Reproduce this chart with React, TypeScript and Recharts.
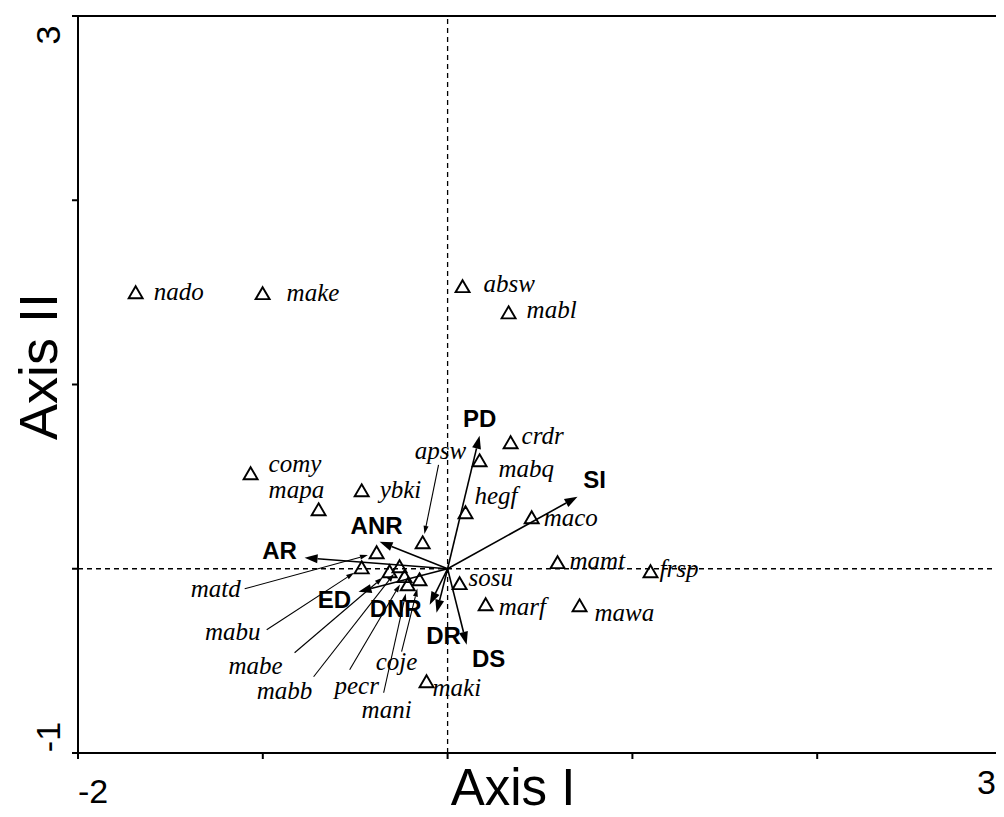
import { ScatterChart, Scatter, XAxis, YAxis, ReferenceLine, ReferenceArea, Label } from "recharts";

// species scores (axis I, axis II)
const speciesPoints = [
  { name: "nado", x: -1.688, y: 1.498 },
  { name: "make", x: -1.001, y: 1.493 },
  { name: "absw", x: 0.081, y: 1.531 },
  { name: "mabl", x: 0.33, y: 1.389 },
  { name: "crdr", x: 0.341, y: 0.684 },
  { name: "mabq", x: 0.173, y: 0.586 },
  { name: "hegf", x: 0.097, y: 0.304 },
  { name: "maco", x: 0.455, y: 0.277 },
  { name: "comy", x: -1.066, y: 0.516 },
  { name: "mapa", x: -0.698, y: 0.32 },
  { name: "ybki", x: -0.465, y: 0.423 },
  { name: "apsw", x: -0.135, y: 0.141 },
  { name: "mamt", x: 0.595, y: 0.033 },
  { name: "frsp", x: 1.098, y: -0.016 },
  { name: "sosu", x: 0.065, y: -0.081 },
  { name: "marf", x: 0.206, y: -0.195 },
  { name: "mawa", x: 0.714, y: -0.201 },
  { name: "maki", x: -0.114, y: -0.613 },
  { name: "matd", x: -0.384, y: 0.087 },
  { name: "mabu", x: -0.465, y: 0.005 },
  { name: "mabe", x: -0.314, y: -0.016 },
  { name: "mabb", x: -0.26, y: 0.011 },
  { name: "pecr", x: -0.233, y: -0.043 },
  { name: "mani", x: -0.216, y: -0.087 },
  { name: "coje", x: -0.152, y: -0.06 },
];

// environmental vectors
const envVars = ["PD", "SI", "ANR", "AR", "ED", "DNR", "DR", "DS"];
const envX = [0.173, 0.703, -0.368, -0.774, -0.482, -0.097, -0.06, 0.103];
const envY = [0.722, 0.391, 0.147, 0.06, -0.125, -0.195, -0.239, -0.412];

// crowded species get their name further away with a pointer line
const leaderNames = ["apsw", "matd", "mabu", "mabe", "mabb", "pecr", "mani", "coje"];
const leaderLabelX = [-0.038, -1.255, -1.163, -1.039, -0.882, -0.492, -0.33, -0.276];
const leaderLabelY = [0.635, -0.114, -0.347, -0.532, -0.668, -0.64, -0.771, -0.51];
const leaderFromX = [-0.049, -1.098, -0.979, -0.828, -0.725, -0.53, -0.346, -0.249];
const leaderFromY = [0.564, -0.109, -0.331, -0.456, -0.586, -0.548, -0.673, -0.45];

const xTicks = [-2, -1, 0, 1, 2, 3];
const yTicks = [-1, 0, 1, 2, 3];

// text offsets (px) for species named next to their triangle
const speciesLabelOffset: Record<string, [number, number]> = {
  nado: [18, 7], make: [24, 7], absw: [21, 5], mabl: [18, 5], crdr: [11, 1],
  mabq: [19, 16], hegf: [9, -9], maco: [12, 8], comy: [18, -2], mapa: [-50, -12],
  ybki: [18, 7], mamt: [12, 6], frsp: [9, 5], sosu: [9, 2], marf: [13, 10],
  mawa: [15, 15], maki: [6, 14],
};

// centre of each vector label relative to the arrow tip (px)
const envLabelOffset: Record<string, [number, number]> = {
  PD: [0, -18], SI: [17, -18], ANR: [-3, -17], AR: [-25, -8],
  ED: [-24, 7], DNR: [-34, 3], DR: [7, 22], DS: [22, 13],
};

const envData = envVars.map((name, i) => ({ name, x: envX[i], y: envY[i] }));
const speciesByName = Object.fromEntries(speciesPoints.map((s) => [s.name, s]));
const leaderData = leaderNames.map((name, i) => ({ name, x: leaderLabelX[i], y: leaderLabelY[i] }));

const SERIF = "'Liberation Serif', 'Times New Roman', serif";
const SANS = "'Liberation Sans', Arial, sans-serif";

const arrowShape = (head: number, width: number, gap: number, sw: number) => (p: any) => {
  const { x1, y1, x2, y2 } = p;
  const dx = x2 - x1;
  const dy = y2 - y1;
  const len = Math.hypot(dx, dy) || 1;
  const ux = dx / len;
  const uy = dy / len;
  const ex = x2 - ux * gap;
  const ey = y2 - uy * gap;
  const bx = ex - ux * head;
  const by = ey - uy * head;
  const px = (-uy * width) / 2;
  const py = (ux * width) / 2;
  return (
    <g>
      <line x1={x1} y1={y1} x2={bx} y2={by} stroke="#000" strokeWidth={sw} />
      <path d={`M${ex},${ey} L${bx + px},${by + py} L${bx - px},${by - py} Z`} fill="#000" />
    </g>
  );
};

function SpeciesMark(props: any) {
  const { cx, cy, payload } = props;
  const off = speciesLabelOffset[payload.name];
  return (
    <g>
      <path
        d={`M${cx},${cy - 6.5} L${cx + 7},${cy + 5.5} L${cx - 7},${cy + 5.5} Z`}
        fill="none"
        stroke="#000"
        strokeWidth={1.9}
      />
      {off && (
        <text x={cx + off[0]} y={cy + off[1]} fontFamily={SERIF} fontStyle="italic" fontSize={25} fill="#000">
          {payload.name}
        </text>
      )}
    </g>
  );
}

function LeaderLabel(props: any) {
  const { cx, cy, payload } = props;
  return (
    <text x={cx} y={cy + 7} textAnchor="middle" fontFamily={SERIF} fontStyle="italic" fontSize={25} fill="#000">
      {payload.name}
    </text>
  );
}

function EnvLabel(props: any) {
  const { cx, cy, payload } = props;
  const off = envLabelOffset[payload.name] || [0, 0];
  return (
    <text
      x={cx + off[0]}
      y={cy + off[1] + 9}
      textAnchor="middle"
      fontFamily={SANS}
      fontWeight="bold"
      fontSize={24}
      fill="#000"
    >
      {payload.name}
    </text>
  );
}

const xTick = (p: any) => {
  const v = p.payload.value;
  if (v === -2)
    return (
      <text x={p.x + 15} y={p.y + 42} textAnchor="middle" fontFamily={SANS} fontSize={34} fill="#000">
        -2
      </text>
    );
  if (v === 3)
    return (
      <text x={p.x - 4} y={p.y + 33} textAnchor="end" fontFamily={SANS} fontSize={34} fill="#000">
        3
      </text>
    );
  return <g />;
};

const yTick = (p: any) => {
  const v = p.payload.value;
  if (v !== 3 && v !== -1) return <g />;
  const x = p.x - 10;
  const y = v === 3 ? p.y + 18 : p.y - 16;
  return (
    <text
      x={x}
      y={y}
      transform={`rotate(-90, ${x}, ${y})`}
      textAnchor="middle"
      fontFamily={SANS}
      fontSize={34}
      fill="#000"
    >
      {v}
    </text>
  );
};

export default function App() {
  return (
    <ScatterChart width={996} height={809} margin={{ top: 8, right: 2, bottom: 0, left: 0 }}>
      <XAxis
        type="number"
        dataKey="x"
        domain={[-2, 3]}
        ticks={xTicks}
        allowDataOverflow
        height={64}
        stroke="#000"
        strokeWidth={2}
        tick={xTick}
      >
        <Label
          content={(lp: any) => {
            const vb = lp.viewBox;
            return (
              <text
                x={vb.x + vb.width / 2 - 27}
                y={vb.y + 52}
                textAnchor="middle"
                fontFamily={SANS}
                fontSize={51}
                fill="#000"
              >
                Axis I
              </text>
            );
          }}
        />
      </XAxis>
      <YAxis
        type="number"
        dataKey="y"
        domain={[-1, 3]}
        ticks={yTicks}
        allowDataOverflow
        width={70}
        stroke="#000"
        strokeWidth={2}
        tick={yTick}
      >
        <Label
          content={(lp: any) => {
            const vb = lp.viewBox;
            const x = 49;
            const y = vb.y + vb.height / 2 - 18;
            return (
              <text
                x={x}
                y={y}
                transform={`rotate(-90, ${x}, ${y})`}
                textAnchor="middle"
                fontFamily={SANS}
                fontSize={54}
                fill="#000"
              >
                Axis II
              </text>
            );
          }}
        />
      </YAxis>

      <ReferenceArea x1={-2} x2={3} y1={-1} y2={3} fill="none" stroke="#000" strokeWidth={2} />
      <ReferenceLine x={0} stroke="#000" strokeWidth={1.3} strokeDasharray="5 4" />
      <ReferenceLine y={0} stroke="#000" strokeWidth={1.3} strokeDasharray="5 4" />

      {envData.map((e) => (
        <ReferenceLine
          key={`env-${e.name}`}
          segment={[{ x: 0, y: 0 }, { x: e.x, y: e.y }]}
          shape={arrowShape(13, 9, 0, 1.6)}
        />
      ))}

      {leaderNames.map((name, i) => {
        const s = speciesByName[name];
        return (
          <ReferenceLine
            key={`lead-${name}`}
            segment={[{ x: leaderFromX[i], y: leaderFromY[i] }, { x: s.x, y: s.y }]}
            shape={arrowShape(8, 5, 9, 1.1)}
          />
        );
      })}

      <Scatter data={speciesPoints} shape={SpeciesMark} isAnimationActive={false} />
      <Scatter data={leaderData} shape={LeaderLabel} isAnimationActive={false} />
      <Scatter data={envData} shape={EnvLabel} isAnimationActive={false} />
    </ScatterChart>
  );
}
